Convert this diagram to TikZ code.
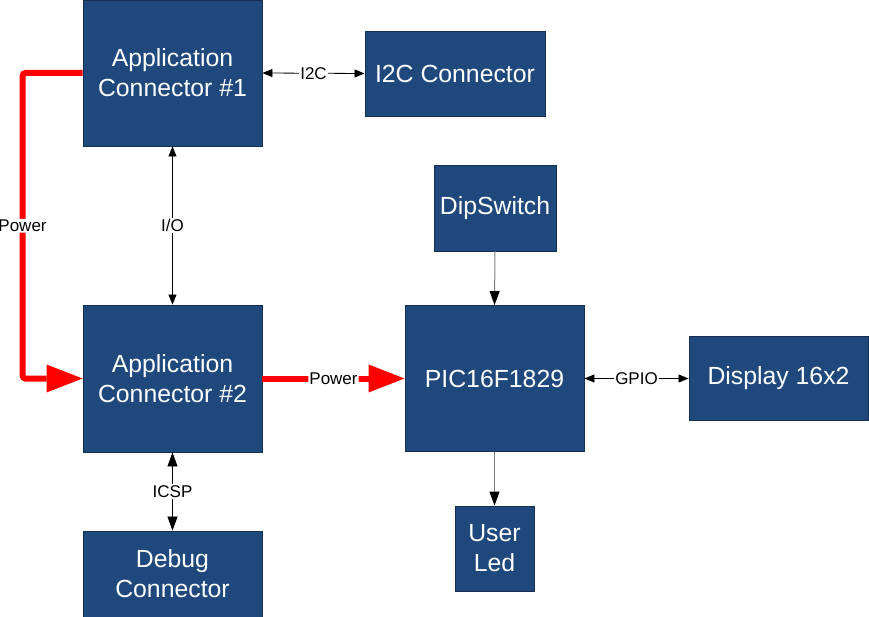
\documentclass[tikz,border=0pt]{standalone}
\usepackage{fontspec}
\setmainfont{Liberation Sans}
\usetikzlibrary{arrows.meta}
\definecolor{boxblue}{HTML}{1F497D}
\definecolor{boxedge}{HTML}{142F50}
\definecolor{pwred}{HTML}{FF0000}
\tikzset{
  blk/.style={draw=boxedge, line width=0.9pt, fill=boxblue, text=white, align=center,
    font=\fontsize{24.8}{30}\selectfont, inner sep=0pt},
  lbl/.style={fill=white, inner sep=1pt, text=black, font=\fontsize{17}{18}\selectfont},
  pw/.style={draw=pwred, line width=6pt, rounded corners=3pt,
    -{Triangle[length=36pt, width=28pt, line width=0pt]}},
  sig/.style={draw=black, line width=0.8pt, {Triangle[length=10pt, width=8pt]}-{Triangle[length=10pt, width=8pt]}},
  sigb/.style={draw=black, line width=0.8pt, {Triangle[length=14pt, width=10pt]}-{Triangle[length=14pt, width=10pt]}},
  one/.style={draw=gray, line width=1pt, -{Triangle[length=14pt, width=10pt, color=black]}}
}
\begin{document}
\begin{tikzpicture}[x=1pt, y=-1pt]
\useasboundingbox (0,0) rectangle (869,617);
\node[blk, minimum width=179pt, minimum height=146pt] (app1) at (172.5,73) {Application\\Connector \#1};
\node[blk, minimum width=180pt, minimum height=85pt] (i2c) at (455,73.5) {I2C Connector};
\node[blk, minimum width=122pt, minimum height=86pt] (dip) at (495,208) {DipSwitch};
\node[blk, minimum width=179pt, minimum height=147pt] (app2) at (172.5,378.5) {Application\\Connector \#2};
\node[blk, minimum width=179pt, minimum height=146pt] (pic) at (494.5,378.5) {PIC16F1829};
\node[blk, minimum width=179pt, minimum height=84pt] (disp) at (778.5,378.5) {Display 16x2};
\node[blk, minimum width=79pt, minimum height=85pt] (led) at (494.5,548.5) {User\\Led};
\node[blk, minimum width=179pt, minimum height=86pt] (dbg) at (172.5,574) {Debug\\Connector};

\draw[pw] (app1.west) -- ++(-60,0) coordinate (k1) -- (k1 |- app2.west) node[lbl, midway] {Power} -- (app2.west);
\draw[pw] (app2.east) -- node[lbl] {Power} (pic.west);
\draw[sig] (app1.east) -- node[lbl] {I2C} (i2c.west);
\draw[sig] (app1.south) -- node[lbl] {I/O} (app2.north);
\draw[sigb] (app2.south) -- node[lbl] {ICSP} (dbg.north);
\draw[sig] (pic.east) -- node[lbl] {GPIO} (disp.west);
\draw[one] (dip.south) -- (pic.north);
\draw[one] (pic.south) -- (led.north);
\end{tikzpicture}
\end{document}
